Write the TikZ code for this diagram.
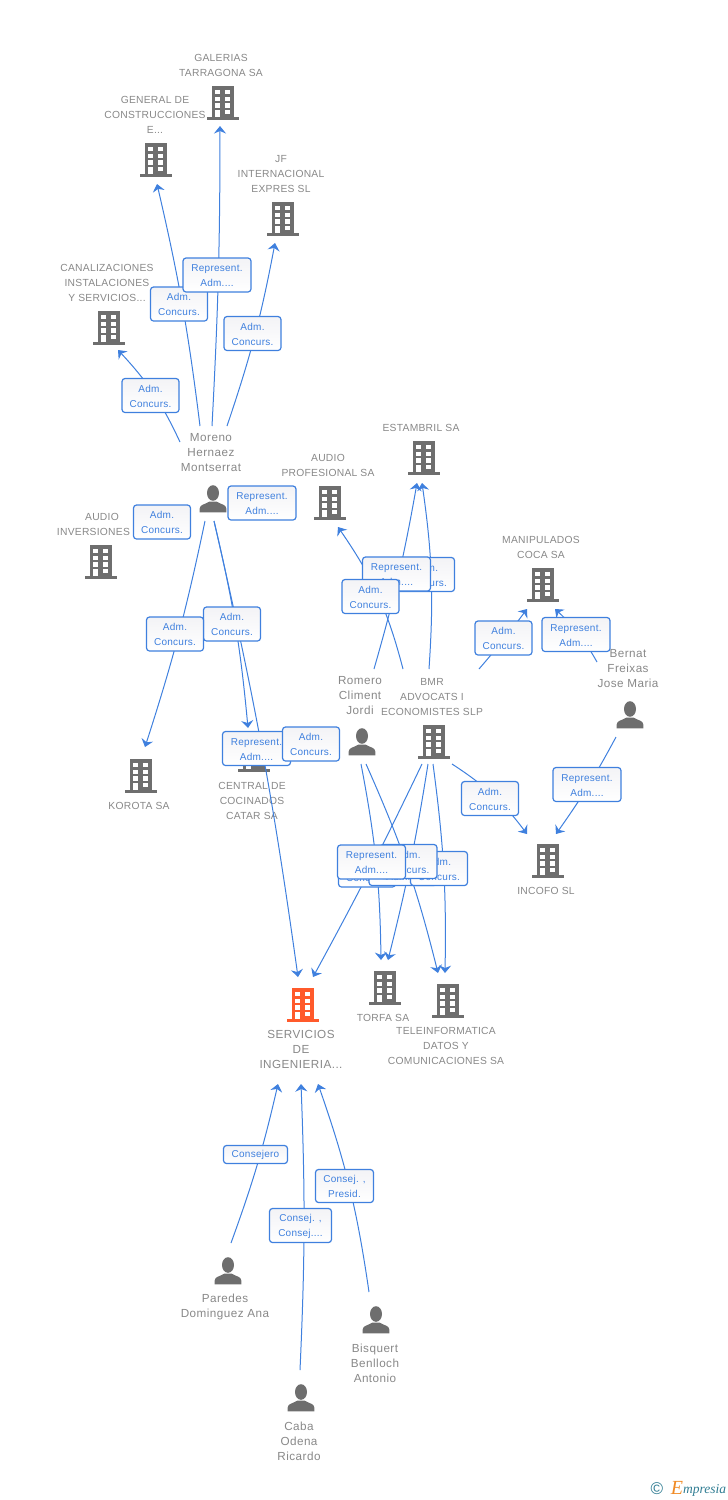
\documentclass[tikz,border=0pt]{standalone}
\usepackage{fontspec}
\setmainfont{Liberation Sans}[LetterSpace=2.5]
\newfontfamily\logofont{Liberation Serif}
\newfontfamily\personfont{Liberation Sans}[LetterSpace=4]
\usetikzlibrary{arrows.meta}

\definecolor{icongrey}{HTML}{6E6E6E}
\definecolor{labelgrey}{HTML}{888888}
\definecolor{linkblue}{HTML}{3F80DE}
\definecolor{mainorange}{HTML}{FF5A2B}
\definecolor{boxshade}{HTML}{F3F3F6}
\definecolor{logoteal}{HTML}{2F7C92}
\definecolor{logoorange}{HTML}{F08A24}

\tikzset{
	firm/.style={minimum width=32pt, minimum height=34pt, inner sep=0pt, path picture={
		\begin{scope}[shift={(path picture bounding box.center)}]
			\fill[#1] (-11,-17) rectangle (11,14.4);
			\fill[#1] (-16,14.2) rectangle (16,17);
			\foreach \wy in {-13,-6.4,0.2}{
				\fill[white] (-7.6,\wy) rectangle (-2.6,\wy+4.4);
				\fill[white] (2.4,\wy) rectangle (7.4,\wy+4.4);
			}
			\fill[white] (-7.6,6.8) rectangle (-2.6,14.4);
			\fill[white] (2.4,6.8) rectangle (7.4,11.2);
		\end{scope}}},
	firm/.default=icongrey,
	person/.style={minimum width=30pt, minimum height=30pt, inner sep=0pt, path picture={
		\begin{scope}[shift={(path picture bounding box.center)}]
			\fill[icongrey] (0,-6) ellipse (6 and 7.8);
			\fill[icongrey] (-13.3,13.3) -- (-13.3,9.5) .. controls (-13.3,5.5) and (-8,5.5) .. (-3.5,2.5)
				-- (3.5,2.5) .. controls (8,5.5) and (13.3,5.5) .. (13.3,9.5) -- (13.3,13.3) -- cycle;
		\end{scope}}},
	firmname/.style={align=center, inner sep=0pt, yshift=-0.7pt, text=labelgrey, font=\fontsize{10.3}{15}\selectfont},
	personname/.style={align=center, inner sep=0pt, yshift=-0.5pt, text=labelgrey, font=\personfont\fontsize{11.7}{15}\selectfont},
	link/.style={draw=linkblue, line width=1pt, -{Stealth[length=7.5pt,width=12pt,inset=2.5pt]}},
	linkbox/.style={draw=linkblue, line width=1.2pt, rounded corners=3pt, inner sep=0pt, align=center,
		top color=boxshade, bottom color=white, text=linkblue, font=\fontsize{10}{15}\selectfont},
	admbox/.style={linkbox, minimum width=57pt, minimum height=34pt},
	repbox/.style={linkbox, minimum width=68pt, minimum height=34pt},
	consbox/.style={linkbox, minimum width=62pt, minimum height=34pt}
}
\newcommand{\admtext}{\rule{0pt}{9pt}Adm.\hspace{4pt}\\Concurs.}
\newcommand{\reptext}{\rule{0pt}{9pt}Represent.\\Adm....}

\begin{document}
\begin{tikzpicture}[x=1pt, y=-1pt]
\useasboundingbox (0,0) rectangle (728,1500);

% companies
\node[firm] (gal) at (223,103) {};
\node[firm] (gen) at (156,160) {};
\node[firm] (jf) at (283,219) {};
\node[firm] (can) at (109,328) {};
\node[firm] (audinv) at (101,562) {};
\node[firm] (audprof) at (330,503) {};
\node[firm] (est) at (424,458) {};
\node[firm] (man) at (543,585) {};
\node[firm] (bmr) at (434,742) {};
\node[firm] (inc) at (548,861) {};
\node[firm] (kor) at (141,776) {};
\node[firm] (cen) at (254,755) {};
\node[firm] (torf) at (385,988) {};
\node[firm] (tel) at (448,1001) {};
\node[firm=mainorange] (serv) at (303,1005) {};

% people
\node[person] (mor) at (213,499) {};
\node[person] (rom) at (362,742) {};
\node[person] (ber) at (630,715) {};
\node[person] (par) at (228,1271) {};
\node[person] (bis) at (376,1320) {};
\node[person] (cab) at (301,1398) {};

% names
\node[firmname] (galname) at (221,65) {GALERIAS\\TARRAGONA SA};
\node[firmname] (genname) at (155,114) {GENERAL DE\\CONSTRUCCIONES\\E...};
\node[firmname] (jfname) at (281,173) {JF\\INTERNACIONAL\\EXPRES SL};
\node[firmname] (canname) at (107,282) {CANALIZACIONES\\INSTALACIONES\\Y SERVICIOS...};
\node[firmname] (audinvname) at (102,524) {AUDIO\\INVERSIONES SA};
\node[firmname] (audprofname) at (328,465) {AUDIO\\PROFESIONAL SA};
\node[firmname] (estname) at (421,427) {ESTAMBRIL SA};
\node[firmname] (manname) at (541,547) {MANIPULADOS\\COCA SA};
\node[firmname] (bmrname) at (432,696) {BMR\\ADVOCATS I\\ECONOMISTES SLP};
\node[firmname] (incname) at (546,890) {INCOFO SL};
\node[firmname] (korname) at (139,805) {KOROTA SA};
\node[firmname] (cenname) at (252,800) {CENTRAL DE\\COCINADOS\\CATAR SA};
\node[firmname] (torfname) at (383,1017) {TORFA SA};
\node[firmname] (telname) at (446,1045) {TELEINFORMATICA\\DATOS Y\\COMUNICACIONES SA};
\node[personname] (servname) at (301,1049) {SERVICIOS\\DE\\INGENIERIA...};
\node[personname] (morname) at (211,452) {Moreno\\Hernaez\\Montserrat};
\node[personname] (romname) at (360,695) {Romero\\Climent\\Jordi};
\node[personname] (bername) at (628,668) {Bernat\\Freixas\\Jose Maria};
\node[personname] (parname) at (225,1306) {Paredes\\Dominguez Ana};
\node[personname] (bisname) at (375,1363) {Bisquert\\Benlloch\\Antonio};
\node[personname] (cabname) at (299,1441) {Caba\\Odena\\Ricardo};

% links
\draw[link] ([shift={(-33,-57)}]mor.center) to[bend right=9] ([shift={(9,22)}]can.center);
\draw[link] ([shift={(-13,-73)}]mor.center) to[bend right=3] ([shift={(1,24)}]gen.center);
\draw[link] ([shift={(-1,-73)}]mor.center) to[bend right=1.5] ([shift={(-3,23)}]gal.center);
\draw[link] ([shift={(14,-73)}]mor.center) to[bend right=4] ([shift={(-8,24)}]jf.center);
\draw[link] ([shift={(-8,22)}]mor.center) to[bend left=3] ([shift={(4,-29)}]kor.center);
\draw[link] ([shift={(1,22)}]mor.center) to[bend left=4] ([shift={(-6,-27)}]cen.center);
\draw[link] ([shift={(1,22)}]mor.center) to[bend left=2.5] ([shift={(-5,-28)}]serv.center);
\draw[link] ([shift={(-31,-73)}]bmr.center) to[bend right=10] ([shift={(8,24)}]audprof.center);
\draw[link] ([shift={(12,-73)}]rom.center) to[bend right=3] ([shift={(-7,25)}]est.center);
\draw[link] ([shift={(-5,-73)}]bmr.center) to[bend right=6] ([shift={(-2,25)}]est.center);
\draw[link] ([shift={(45,-73)}]bmr.center) to[bend right=2] ([shift={(-16,24)}]man.center);
\draw[link] ([shift={(-33,-53)}]ber.center) to[bend right=9] ([shift={(12,24)}]man.center);
\draw[link] ([shift={(-14,22)}]ber.center) to[bend left=3.5] ([shift={(8,-27)}]inc.center);
\draw[link] ([shift={(18,22)}]bmr.center) to[bend left=10] ([shift={(-21,-27)}]inc.center);
\draw[link] ([shift={(-1,22)}]rom.center) to[bend left=5] ([shift={(-4,-28)}]torf.center);
\draw[link] ([shift={(4,22)}]rom.center) to[bend left=5] ([shift={(-10,-28)}]tel.center);
\draw[link] ([shift={(-12,22)}]bmr.center) to[bend left=1.5] ([shift={(10,-28)}]serv.center);
\draw[link] ([shift={(-6,22)}]bmr.center) to[bend left=2.5] ([shift={(3,-28)}]torf.center);
\draw[link] ([shift={(-1,22)}]bmr.center) to[bend left=4.3] ([shift={(-3,-28)}]tel.center);
\draw[link] ([shift={(3,-28)}]par.center) to[bend right=3.5] ([shift={(-25,79)}]serv.center);
\draw[link] ([shift={(-1,-28)}]cab.center) to[bend right=2.4] ([shift={(-2,79)}]serv.center);
\draw[link] ([shift={(-7,-28)}]bis.center) to[bend right=5.5] ([shift={(15,79)}]serv.center);

% link labels
\node[admbox] (lbgen) at (179,304) {\admtext};
\node[repbox] (lbgal) at (217,275) {\reptext};
\node[admbox] (lbjf) at (252.5,333.5) {\admtext};
\node[admbox] (lbcan) at (150.5,395.5) {\admtext};
\node[admbox] (lbaudinv) at (162,522) {\admtext};
\node[repbox] (lbaudprof) at (262,503) {\reptext};
\node[admbox] (lbserv) at (232,624) {\admtext};
\node[admbox] (lbkor) at (175,634) {\admtext};
\node[repbox] (lbcen) at (256.5,748.5) {\reptext};
\node[admbox] (lbcentwo) at (311,744) {\admtext};
\node[admbox] (lbestb) at (426,574.5) {\admtext};
\node[repbox] (lbest) at (396.5,574) {\reptext};
\node[admbox] (lbaudprofb) at (370.5,596.5) {\admtext};
\node[admbox] (lbman) at (503.5,638) {\admtext};
\node[repbox] (lbmanb) at (576,634.5) {\reptext};
\node[repbox] (lbinc) at (587,784.5) {\reptext};
\node[admbox] (lbincb) at (490,798.5) {\admtext};
\node[admbox] (lbtorfb) at (367,870) {\admtext};
\node[repbox] (lbservb) at (403,868.5) {\reptext};
\node[admbox] (lbtelb) at (439,868.5) {\admtext};
\node[admbox] (lbtel) at (408.5,861.5) {\admtext};
\node[repbox] (lbtorf) at (371.5,862) {\reptext};
\node[linkbox, minimum width=64pt, minimum height=18pt] (lbpar) at (255.5,1154.5) {Consejero};
\node[consbox] (lbcab) at (300.5,1225.5) {\rule{0pt}{9pt}Consej. ,\\Consej....};
\node[linkbox, minimum width=58pt, minimum height=33pt] (lbbis) at (344.5,1186) {\rule{0pt}{9pt}Consej. ,\\Presid.};

% logo
\node[inner sep=0pt, text=logoteal, font=\fontsize{17}{17}\selectfont] (logoc) at (657,1488.5) {\char"00A9};
\node[inner sep=0pt, text=logoorange, font=\logofont\itshape\fontsize{20}{20}\selectfont] (logoe) at (677,1488) {E};
\node[inner sep=0pt, anchor=west, text=logoteal, font=\logofont\itshape\fontsize{13.5}{15}\selectfont] (logot) at (683,1490) {mpresia};
\end{tikzpicture}
\end{document}
